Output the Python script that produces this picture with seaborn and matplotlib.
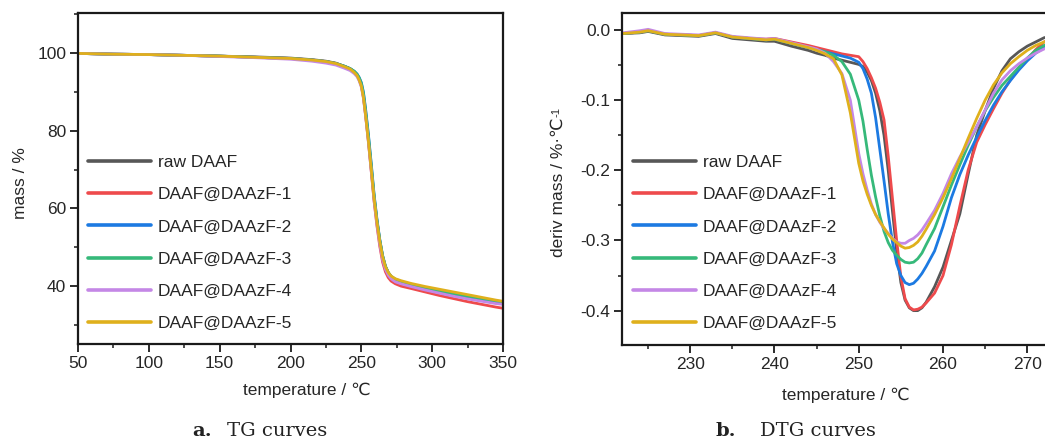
import numpy as np
import pandas as pd
import matplotlib
matplotlib.use("Agg")
import matplotlib.pyplot as plt
import seaborn as sns
from matplotlib.ticker import MultipleLocator

# ---------------- data ----------------
series_names = ["raw DAAF", "DAAF@DAAzF-1", "DAAF@DAAzF-2",
                "DAAF@DAAzF-3", "DAAF@DAAzF-4", "DAAF@DAAzF-5"]
series_colors = ["#575757", "#ee4a4c", "#1c7ae2", "#36b97a", "#c487e6", "#dfb01c"]

# TG curves (mass %)
tg_temp = [50, 75, 100, 125, 150, 175, 200, 215, 225, 232, 238, 242, 245, 247, 248.5,
           250, 251.5, 253, 255, 257, 259, 261, 263, 265, 267, 269, 271, 274, 278,
           285, 295, 305, 315, 325, 335, 345, 350]
tg_raw = [99.9, 99.7, 99.6, 99.4, 99.2, 99.0, 98.7, 98.3, 97.9, 97.4, 96.6, 96.0, 95.2,
          94.4, 93.3, 91.8, 88.9, 84.5, 77.8, 70.4, 62.8, 56.8, 51.7, 47.7, 45.0, 43.4,
          42.4, 41.6, 41.0, 40.3, 39.4, 38.6, 37.9, 37.2, 36.6, 36.0, 35.7]
tg_1 = [99.9, 99.7, 99.6, 99.4, 99.2, 98.9, 98.6, 98.2, 97.8, 97.3, 96.5, 95.9, 95.1,
        94.3, 93.2, 91.6, 88.6, 84.0, 77.2, 69.6, 61.9, 55.6, 50.3, 46.2, 43.7, 42.2,
        41.3, 40.6, 40.0, 39.4, 38.5, 37.6, 36.8, 36.0, 35.3, 34.6, 34.3]
tg_2 = [99.9, 99.7, 99.6, 99.4, 99.2, 98.9, 98.6, 98.2, 97.8, 97.3, 96.6, 96.0, 95.3,
        94.6, 93.7, 92.4, 89.9, 85.6, 79.0, 71.5, 63.6, 57.3, 52.0, 47.9, 45.1, 43.5,
        42.5, 41.7, 41.1, 40.4, 39.5, 38.7, 38.0, 37.3, 36.7, 36.1, 35.8]
tg_3 = [99.9, 99.7, 99.6, 99.4, 99.2, 98.9, 98.6, 98.2, 97.8, 97.3, 96.6, 96.0, 95.3,
        94.5, 93.6, 92.2, 89.6, 85.2, 78.6, 71.1, 63.3, 57.0, 51.9, 47.8, 45.1, 43.5,
        42.5, 41.8, 41.2, 40.5, 39.6, 38.8, 38.1, 37.4, 36.8, 36.2, 35.9]
tg_4 = [99.9, 99.7, 99.6, 99.4, 99.1, 98.8, 98.4, 97.9, 97.4, 96.9, 96.1, 95.5, 94.7,
        93.9, 92.8, 91.2, 88.3, 83.8, 77.0, 69.6, 62.0, 55.9, 50.8, 46.8, 44.3, 42.8,
        41.9, 41.1, 40.6, 39.9, 39.0, 38.2, 37.4, 36.7, 36.1, 35.5, 35.3]
tg_5 = [99.9, 99.7, 99.6, 99.4, 99.2, 98.9, 98.6, 98.2, 97.8, 97.3, 96.5, 95.9, 95.0,
        94.2, 93.0, 91.5, 88.5, 84.0, 77.3, 70.0, 62.5, 56.5, 51.5, 47.6, 45.0, 43.5,
        42.6, 41.9, 41.4, 40.7, 39.9, 39.2, 38.5, 37.8, 37.1, 36.4, 36.1]

# DTG curves (deriv mass %/°C)
dtg_temp = [222, 224, 225, 227, 229, 231, 233, 235, 237, 239, 240, 242, 244, 245, 246,
            247, 248, 249, 250, 250.5, 251, 251.5, 252, 252.5, 253, 253.5, 254, 254.5,
            255, 255.5, 256, 256.5, 257, 257.5, 258, 259, 260, 261, 262, 263, 264, 265,
            266, 267, 268, 269, 270, 271, 272, 272.7]
dtg_raw = [-0.005, -0.004, -0.002, -0.007, -0.008, -0.009, -0.005, -0.012, -0.014, -0.016,
           -0.016, -0.023, -0.029, -0.033, -0.036, -0.040, -0.043, -0.046, -0.049, -0.052,
           -0.060, -0.072, -0.090, -0.115, -0.150, -0.200, -0.258, -0.315, -0.360, -0.385,
           -0.396, -0.400, -0.400, -0.396, -0.388, -0.366, -0.338, -0.300, -0.262, -0.205,
           -0.150, -0.115, -0.083, -0.058, -0.041, -0.031, -0.023, -0.017, -0.011, -0.009]
dtg_1 = [-0.005, -0.003, -0.001, -0.006, -0.007, -0.008, -0.004, -0.010, -0.012, -0.013,
         -0.012, -0.017, -0.022, -0.025, -0.028, -0.031, -0.034, -0.036, -0.038, -0.045,
         -0.055, -0.068, -0.083, -0.103, -0.128, -0.180, -0.240, -0.300, -0.352, -0.383,
         -0.395, -0.399, -0.398, -0.395, -0.389, -0.375, -0.350, -0.306, -0.251, -0.199,
         -0.160, -0.135, -0.112, -0.090, -0.071, -0.056, -0.042, -0.028, -0.017, -0.013]
dtg_2 = [-0.005, -0.003, -0.001, -0.006, -0.007, -0.008, -0.004, -0.010, -0.012, -0.014,
         -0.013, -0.019, -0.025, -0.028, -0.031, -0.034, -0.037, -0.040, -0.046, -0.055,
         -0.070, -0.090, -0.125, -0.170, -0.215, -0.262, -0.302, -0.333, -0.350, -0.360,
         -0.363, -0.361, -0.355, -0.347, -0.337, -0.315, -0.280, -0.239, -0.206, -0.178,
         -0.153, -0.129, -0.107, -0.088, -0.072, -0.057, -0.044, -0.033, -0.025, -0.021]
dtg_3 = [-0.005, -0.003, -0.001, -0.006, -0.007, -0.008, -0.004, -0.010, -0.012, -0.014,
         -0.013, -0.019, -0.025, -0.028, -0.031, -0.036, -0.045, -0.063, -0.100, -0.130,
         -0.170, -0.207, -0.238, -0.265, -0.287, -0.303, -0.314, -0.321, -0.327, -0.331,
         -0.332, -0.331, -0.326, -0.318, -0.306, -0.283, -0.252, -0.221, -0.192, -0.164,
         -0.138, -0.115, -0.096, -0.079, -0.066, -0.053, -0.040, -0.029, -0.022, -0.019]
dtg_4 = [-0.004, -0.001, 0.001, -0.005, -0.006, -0.007, -0.003, -0.009, -0.011, -0.013,
         -0.012, -0.018, -0.024, -0.027, -0.033, -0.045, -0.062, -0.100, -0.176, -0.205,
         -0.228, -0.248, -0.263, -0.274, -0.283, -0.290, -0.297, -0.302, -0.304, -0.304,
         -0.300, -0.297, -0.292, -0.285, -0.276, -0.257, -0.233, -0.205, -0.181, -0.160,
         -0.138, -0.114, -0.090, -0.071, -0.058, -0.048, -0.040, -0.033, -0.027, -0.024]
dtg_5 = [-0.005, -0.003, -0.001, -0.006, -0.007, -0.008, -0.004, -0.010, -0.012, -0.014,
         -0.013, -0.019, -0.025, -0.029, -0.034, -0.041, -0.064, -0.118, -0.190, -0.215,
         -0.234, -0.250, -0.263, -0.273, -0.282, -0.291, -0.298, -0.303, -0.308, -0.311,
         -0.310, -0.307, -0.302, -0.294, -0.284, -0.263, -0.239, -0.212, -0.183, -0.154,
         -0.126, -0.100, -0.078, -0.061, -0.048, -0.038, -0.029, -0.022, -0.017, -0.015]

tg_values = [tg_raw, tg_1, tg_2, tg_3, tg_4, tg_5]
dtg_values = [dtg_raw, dtg_1, dtg_2, dtg_3, dtg_4, dtg_5]

tg_df = pd.concat([pd.DataFrame({"T": tg_temp, "v": v, "series": n})
                   for n, v in zip(series_names, tg_values)], ignore_index=True)
dtg_df = pd.concat([pd.DataFrame({"T": dtg_temp, "v": v, "series": n})
                    for n, v in zip(series_names, dtg_values)], ignore_index=True)

# ---------------- style ----------------
sns.set_style("ticks")
plt.rcParams["font.family"] = ["Liberation Sans", "DejaVu Sans"]
plt.rcParams["axes.unicode_minus"] = False

W, H = 1045, 443
fig = plt.figure(figsize=(W / 100, H / 100), dpi=100)
fs = 12.5
palette = dict(zip(series_names, series_colors))


def px_axes(l, t, r, b):
    return fig.add_axes([l / W, 1 - b / H, (r - l) / W, (b - t) / H])


def style_axes(ax):
    for s in ax.spines.values():
        s.set_linewidth(1.6)
        s.set_color("#1a1a1a")
    ax.tick_params(which="major", direction="out", length=5.5, width=1.3,
                   labelsize=fs, color="#1a1a1a", pad=3)
    ax.tick_params(which="minor", direction="out", length=3, width=1.1, color="#1a1a1a")
    ax.tick_params(top=False, right=False)
    ax.set_facecolor("white")


def add_legend(ax, x_px):
    handles = ax.get_lines()[:len(series_names)]
    leg = ax.legend(handles, series_names, loc="upper left",
                    bbox_to_anchor=(x_px / W, 1 - 155 / H), bbox_transform=fig.transFigure,
                    frameon=False, fontsize=fs, handlelength=3.6, handletextpad=0.42,
                    labelspacing=0.98, borderpad=0, borderaxespad=0)
    for ln in leg.get_lines():
        ln.set_linewidth(2.6)


# ---------------- panel a: TG ----------------
ax1 = px_axes(78, 13, 503, 344)
sns.lineplot(data=tg_df, x="T", y="v", hue="series", hue_order=series_names,
             palette=palette, estimator=None, sort=False, linewidth=2.0,
             legend=False, ax=ax1)
ax1.set_xlim(50, 350)
ax1.set_ylim(25.1, 110.3)
ax1.set_xticks([50, 100, 150, 200, 250, 300, 350])
ax1.set_yticks([40, 60, 80, 100])
ax1.xaxis.set_minor_locator(MultipleLocator(25))
ax1.yaxis.set_minor_locator(MultipleLocator(10))
style_axes(ax1)
ax1.set_xlabel("temperature / ℃", fontsize=fs)
ax1.set_ylabel("mass / %", fontsize=fs)
ax1.xaxis.set_label_coords((307 - 78) / 425, -(383 - 344) / 331)
ax1.yaxis.set_label_coords(-(78 - 28) / 425, (344 - 183) / 331)
add_legend(ax1, 88)

# ---------------- panel b: DTG ----------------
ax2 = px_axes(622, 12.7, 1050, 345)
sns.lineplot(data=dtg_df, x="T", y="v", hue="series", hue_order=series_names,
             palette=palette, estimator=None, sort=False, linewidth=2.0,
             legend=False, ax=ax2)
ax2.set_xlim(221.9, 272.7)
ax2.set_ylim(-0.449, 0.0247)
ax2.set_xticks([230, 240, 250, 260, 270])
ax2.set_yticks([-0.4, -0.3, -0.2, -0.1, 0.0])
ax2.yaxis.set_major_formatter(matplotlib.ticker.FormatStrFormatter("%.1f"))
ax2.xaxis.set_minor_locator(MultipleLocator(5))
ax2.yaxis.set_minor_locator(MultipleLocator(0.05))
style_axes(ax2)
ax2.set_xlabel("temperature / ℃", fontsize=fs)
ax2.set_ylabel("deriv mass / %·℃", fontsize=fs)
ax2.xaxis.set_label_coords((846 - 622) / 428, -(388 - 345) / 332.3)
ax2.yaxis.set_label_coords(-(622 - 566) / 428, (345 - 187) / 332.3)
add_legend(ax2, 633)

# superscript "-1" after the rotated DTG y label
fig.canvas.draw()
bb = ax2.yaxis.label.get_window_extent()
fig.text((bb.x0 + 1) / W, (bb.y1 + 0.5) / H, "-1", rotation=90, fontsize=8,
         ha="left", va="bottom")

# ---------------- captions ----------------
cap_kw = dict(fontsize=14, family="DejaVu Serif", color="#222222", va="center")
fig.text(192 / W, 1 - 431 / H, "a.", fontweight="bold", ha="left", **cap_kw)
fig.text(227 / W, 1 - 431 / H, "TG curves", ha="left", **cap_kw)
fig.text(715 / W, 1 - 431 / H, "b.", fontweight="bold", ha="left", **cap_kw)
fig.text(760 / W, 1 - 431 / H, "DTG curves", ha="left", **cap_kw)

fig.savefig("out.png", dpi=100, facecolor="white")
